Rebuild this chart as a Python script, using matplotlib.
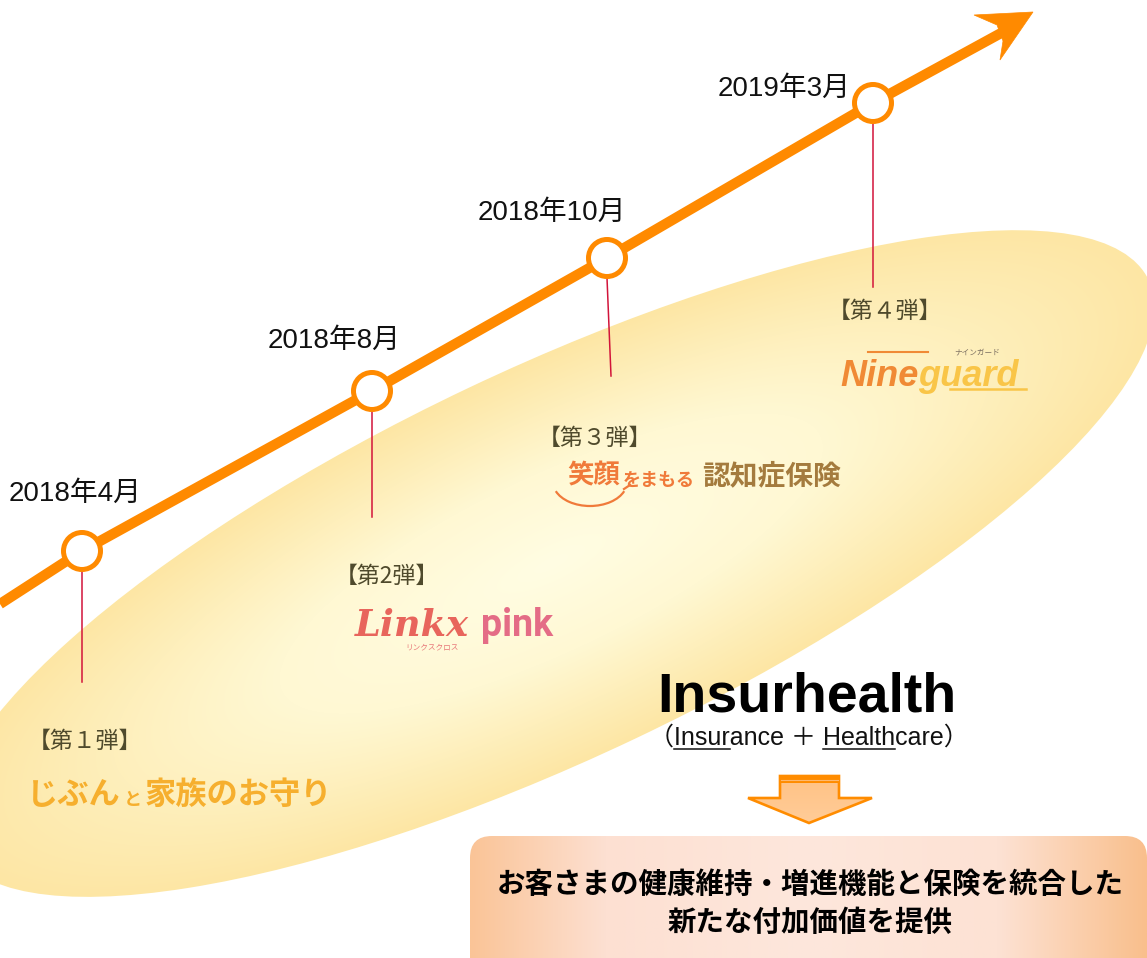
"""Recreate the Insurhealth product timeline infographic as out.png."""

from __future__ import annotations

import matplotlib

matplotlib.use("Agg")

import matplotlib.pyplot as plt
import numpy as np
from matplotlib.colors import to_rgb
from matplotlib.patches import Arc, Circle, Ellipse, FancyBboxPatch, Polygon

W, H = 1147, 958

# --- content -------------------------------------------------------------
RELEASE_DATES = ["2018年4月", "2018年8月", "2018年10月", "2019年3月"]
RELEASE_ROUNDS = ["【第１弾】", "【第2弾】", "【第３弾】", "【第４弾】"]
PRODUCT_1 = ["じぶん", "と", "家族のお守り"]
PRODUCT_2 = ["Linkx", "pink"]
PRODUCT_2_KANA = "リンクスクロス"
PRODUCT_3 = ["笑顔", "をまもる", "認知症保険"]
PRODUCT_4 = ["Nine", "guard"]
PRODUCT_4_KANA = "ナインガード"
BRAND = "Insurhealth"
BRAND_NOTE = "（Insurance ＋ Healthcare）"
BRAND_NOTE_UNDERLINED = ["Insur", "Health"]
MESSAGE = ["お客さまの健康維持・増進機能と保険を統合した", "新たな付加価値を提供"]

# --- layout (pixel coordinates, y grows downwards) -----------------------
NODE_X = [82, 372, 607, 873]
NODE_Y = [551, 391, 258, 103]
STEM_END = [(82, 682), (372, 517), (611, 376), (873, 287)]
DATE_POS = [(75, 494), (334, 341), (552, 213), (784, 89)]
ROUND_POS = [(85, 741), (387, 576), (595, 438), (885, 311)]
# points traced along the edge of the soft yellow backdrop
BACKDROP_EDGE_X = [0, 330, 364, 611, 860, 993, 1147, 1137, 1133, 1093,
                   1043, 967, 893, 793, 760, 460, 300, 100, 0]
BACKDROP_EDGE_Y = [715, 460, 440, 325, 250, 233, 277, 350, 380, 430,
                   480, 547, 597, 647, 667, 820, 860, 900, 882]

ORANGE = "#FF8A00"
STEM_RED = "#D2143A"
OLIVE = "#4F4A2C"
CJK = "Noto Sans CJK JP"
LATIN = "Liberation Sans"


def _gradient(colors, stops, t):
    rgb = np.array([to_rgb(c) for c in colors])
    return np.stack([np.interp(t, stops, rgb[:, i]) for i in range(3)], axis=-1)


def _fit_backdrop():
    """Least-squares conic through the traced edge -> centre and shape matrix."""
    x0, y0, s = 570.0, 570.0, 600.0
    x = (np.asarray(BACKDROP_EDGE_X, float) - x0) / s
    y = (np.asarray(BACKDROP_EDGE_Y, float) - y0) / s
    design = np.column_stack([x * x, x * y, y * y, x, y])
    a, b, c, d, e = np.linalg.lstsq(design, np.ones_like(x), rcond=None)[0]
    shape = np.array([[a, b / 2], [b / 2, c]])
    centre = -np.linalg.solve(shape, np.array([d, e])) / 2
    shape = shape / (1 + centre @ shape @ centre)
    centre_px = centre * s + np.array([x0, y0])
    return centre_px, shape / s ** 2


def _draw_backdrop(ax):
    centre, shape = _fit_backdrop()
    vals, vecs = np.linalg.eigh(shape)
    major = vecs[:, 0]
    angle = np.degrees(np.arctan2(major[1], major[0]))
    patch = Ellipse(tuple(centre), 2 / np.sqrt(vals[0]), 2 / np.sqrt(vals[1]),
                    angle=angle, fc="none", ec="none")
    ax.add_patch(patch)

    xs, ys = np.meshgrid(np.arange(W) + 0.5, np.arange(H) + 0.5)
    dx, dy = xs - centre[0], ys - centre[1]
    r2 = shape[0, 0] * dx ** 2 + 2 * shape[0, 1] * dx * dy + shape[1, 1] * dy ** 2
    r = np.clip(np.sqrt(r2), 0, 1)
    img = _gradient(["#FFFDE3", "#FFF8D3", "#FDE6A4"], [0, 0.45, 1], r)
    im = ax.imshow(img, extent=(0, W, H, 0), interpolation="bilinear", zorder=0)
    im.set_clip_path(patch)


def _draw_timeline(ax):
    path_x = [0] + NODE_X + [1003]
    path_y = [604] + NODE_Y + [32]
    ax.plot(path_x, path_y, color=ORANGE, lw=7.4, solid_capstyle="butt",
            solid_joinstyle="round", zorder=3)
    head = Polygon([(1033, 12), (974, 15), (997, 25), (1003, 41), (1000, 60)],
                   closed=True, fc=ORANGE, ec=ORANGE, lw=0.5, zorder=3)
    ax.add_patch(head)

    for x, y, (sx, sy) in zip(NODE_X, NODE_Y, STEM_END):
        ax.plot([x, sx], [y + 20, sy], color=STEM_RED, lw=1.1, zorder=2)
        ax.add_patch(Circle((x, y), 18.5, fc="white", ec=ORANGE, lw=3.6,
                            zorder=4))

    for label, (x, y) in zip(RELEASE_DATES, DATE_POS):
        ax.text(x, y, label, ha="center", va="center", fontsize=20,
                family=[LATIN, CJK], color="#111111", zorder=5)

    for label, (x, y) in zip(RELEASE_ROUNDS, ROUND_POS):
        ax.text(x, y, label, ha="center", va="center", fontsize=16.5,
                family=[CJK], color=OLIVE, zorder=5)


def _draw_products(ax):
    # 1: じぶんと家族のお守り
    yellow = "#F6AF2E"
    ax.text(27, 795, PRODUCT_1[0], ha="left", va="center", fontsize=22.5,
            family=[CJK], weight="bold", color=yellow, zorder=5)
    ax.text(124, 799, PRODUCT_1[1], ha="left", va="center", fontsize=13,
            family=[CJK], weight="bold", color=yellow, zorder=5)
    ax.text(145, 795, PRODUCT_1[2], ha="left", va="center", fontsize=22.5,
            family=[CJK], weight="bold", color=yellow, zorder=5)

    # 2: Linkx pink
    ax.text(355, 636, PRODUCT_2[0], ha="left", va="baseline", fontsize=26.5,
            family=["DejaVu Serif"], style="italic", weight="bold",
            color="#E8655C", zorder=5)
    ax.text(481, 636, PRODUCT_2[1], ha="left", va="baseline", fontsize=27,
            family=["Roboto", "DejaVu Sans"], weight="bold", color="#E46C86",
            zorder=5)
    ax.text(432, 647, PRODUCT_2_KANA, ha="center", va="center", fontsize=5.5,
            family=[CJK], color="#E8787A", zorder=5)

    # 3: 笑顔をまもる認知症保険
    smile = "#F07A3A"
    ax.text(567, 476, PRODUCT_3[0], ha="left", va="center", fontsize=19,
            family=[CJK], weight="bold", color=smile, zorder=5)
    ax.text(623, 480, PRODUCT_3[1], ha="left", va="center", fontsize=13,
            family=[CJK], weight="bold", color=smile, zorder=5)
    ax.text(702, 476, PRODUCT_3[2], ha="left", va="center", fontsize=20,
            family=[CJK], weight="bold", color="#A47B3E", zorder=5)
    ax.add_patch(Arc((590, 482), 74, 48, theta1=15, theta2=165, color=smile,
                     lw=1.6, zorder=5))
    ax.plot([624, 630], [489, 485], color=smile, lw=1.6, zorder=5)

    # 4: Nineguard
    ax.text(840, 386, PRODUCT_4[0], ha="left", va="baseline", fontsize=26,
            family=[LATIN], style="italic", weight="bold",
            color="#F08A35", zorder=5)
    ax.text(918, 386, PRODUCT_4[1], ha="left", va="baseline", fontsize=26,
            family=[LATIN], style="italic", weight="bold",
            color="#F9C548", zorder=5)
    ax.plot([868, 928], [352, 352], color="#F08A35", lw=1.5, zorder=5)
    ax.plot([950, 1026], [389, 389], color="#F9C548", lw=1.8, zorder=5)
    ax.text(977, 352, PRODUCT_4_KANA, ha="center", va="center", fontsize=5.5,
            family=[CJK], color="#7A6E60", zorder=5)


def _text_width(ax, renderer, text, **kw):
    artist = ax.text(0, 0, text, **kw)
    width = artist.get_window_extent(renderer).width
    artist.remove()
    return width


def _draw_brand(ax, renderer):
    ax.text(807, 712, BRAND, ha="center", va="baseline", fontsize=40,
            family=[LATIN, CJK], weight="bold", color="black", zorder=5)

    note_kw = dict(fontsize=18, family=[LATIN, CJK], color="#111111")
    note = ax.text(809, 745, BRAND_NOTE, ha="center", va="baseline",
                   zorder=5, **note_kw)
    left = note.get_window_extent(renderer).x0
    for word in BRAND_NOTE_UNDERLINED:
        idx = BRAND_NOTE.index(word)
        start = left + (_text_width(ax, renderer, BRAND_NOTE[:idx + 1], **note_kw)
                        - _text_width(ax, renderer, word[0], **note_kw))
        end = left + _text_width(ax, renderer, BRAND_NOTE[:idx + len(word)],
                                 **note_kw)
        ax.plot([start, end], [749, 749], color="#111111", lw=1.1, zorder=5)

    # down arrow
    shape = Polygon([(780, 776), (839, 776), (839, 798), (872, 798),
                     (809, 823), (748, 798), (780, 798)], closed=True,
                    fc="none", ec="#FF8C00", lw=1.9, zorder=6)
    ax.add_patch(shape)
    ys = np.linspace(0, 1, 60)
    fill = _gradient(["#FFC285", "#FFCC98"], [0, 1], ys)[:, None, :]
    im = ax.imshow(fill, extent=(748, 872, 823, 776), interpolation="bilinear",
                   aspect="auto", zorder=5)
    im.set_clip_path(shape)
    ax.fill_between([779, 840], 775, 783, color="#FF8C00", lw=0, zorder=6)
    ax.plot([781, 838], [779.5, 779.5], color="#FDB870", lw=0.8, zorder=6)

    # message box
    box = FancyBboxPatch((470, 836), 677, 160,
                         boxstyle="round,pad=0,rounding_size=22",
                         fc="none", ec="none")
    ax.add_patch(box)
    xs = np.linspace(0, 1, 400)
    band = _gradient(["#FAC497", "#FDE0D2", "#FDE7DC", "#FDE2D4", "#F9BF8C"],
                     [0, 0.2, 0.5, 0.78, 1], xs)[None, :, :]
    im = ax.imshow(band, extent=(470, 1147, 996, 836), interpolation="bilinear",
                   aspect="auto", zorder=1)
    im.set_clip_path(box)
    for line, y in zip(MESSAGE, [885, 923]):
        ax.text(810, y, line, ha="center", va="center", fontsize=20.5,
                family=[CJK], weight="bold", color="black", zorder=5)


def main() -> int:
    fig = plt.figure(figsize=(W / 100, H / 100), dpi=100)
    ax = fig.add_axes([0, 0, 1, 1])
    renderer = fig.canvas.get_renderer()

    _draw_backdrop(ax)
    _draw_timeline(ax)
    _draw_products(ax)
    _draw_brand(ax, renderer)

    ax.set_xlim(0, W)
    ax.set_ylim(H, 0)
    ax.set_aspect("auto")
    ax.axis("off")
    fig.savefig("out.png", dpi=100, facecolor="white")
    plt.close(fig)
    return 0


if __name__ == "__main__":
    raise SystemExit(main())
